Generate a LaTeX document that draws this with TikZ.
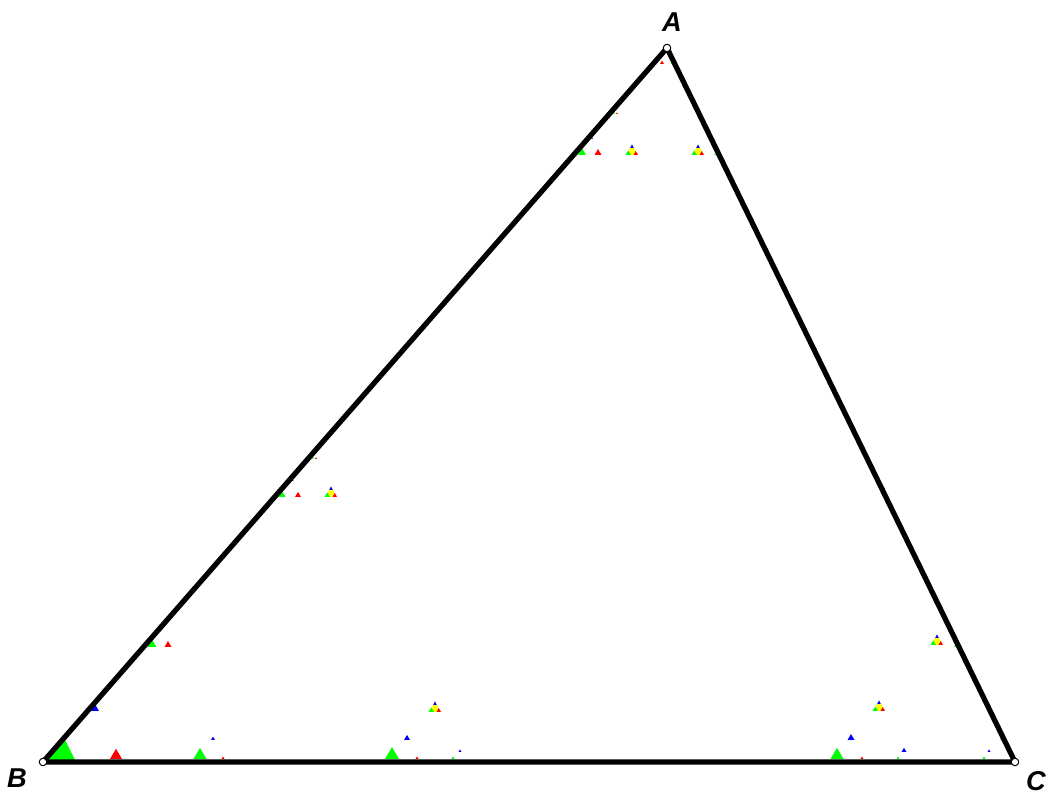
\documentclass[tikz,border=0pt]{standalone}
\usepackage{fontspec}
\setmainfont{Liberation Sans}
\usepackage{xcolor}
\usepackage{tikz}
\definecolor{verde}{RGB}{0,255,0}
\definecolor{rosso}{RGB}{255,0,0}
\definecolor{blu}{RGB}{0,0,255}
\definecolor{giallo}{RGB}{255,255,0}

\begin{document}
\begin{tikzpicture}[x=0.2mm, y=-0.2mm,
            every node/.style={font=\fontsize{15.5}{18}\selectfont\bfseries\itshape}]
        \useasboundingbox (0,0) rectangle (1049,794);

        % Vertici del triangolo
        \coordinate (A) at (667,48);
        \coordinate (B) at (43,762);
        \coordinate (C) at (1015,762);

        % Triangolini: x/y/larghezza/colore (base centrata in x,y)
        \foreach \x/\y/\s/\c in {
                662/64/4/rosso, 672/64/2/verde, 614/114/2/verde, 617/114/2/rosso,
                592/139/2/blu, 582/155/8/verde, 598/155/7/rosso, 715/155/2/verde,
                313/459/2/verde, 316/459/2/rosso, 292/481/3/blu,
                282/497/7/verde, 298/497/6/rosso,
                152/647/9/verde, 168/647/7/rosso, 95/711/8/blu,
                116/759/12/rosso, 200/759/13/verde, 213/740/4/blu, 223/759/3/rosso,
                392/759/14/verde, 407/740/6/blu, 417/759/3/rosso, 453/759/3/verde,
                460/752/3/blu,
                947/627/2/verde, 955/647/2/verde, 851/740/7/blu, 837/759/13/verde,
                862/759/3/rosso, 904/752/5/blu, 898/759/3/verde, 989/752/3/blu,
                984/759/3/verde, 1001/740/2/verde}{
                \fill[\c] (\x-\s/2,\y) -- (\x+\s/2,\y) -- (\x,\y-0.85*\s) -- cycle;
            }

        % Gruppi giallo / verde / rosso / blu
        \foreach \x/\y in {632/155, 698/155, 331/497, 435/712, 937/645, 879/711}{
                \fill[giallo] (\x-6,\y) -- (\x+6,\y) -- (\x,\y-10) -- cycle;
                \fill[verde] (\x-6.5,\y) -- (\x-1,\y) -- (\x-3.75,\y-4.5) -- cycle;
                \fill[rosso] (\x+1.5,\y) -- (\x+6,\y) -- (\x+3.75,\y-4) -- cycle;
                \fill[blu] (\x-1.8,\y-7) -- (\x+1.8,\y-7) -- (\x,\y-10.5) -- cycle;
            }

        % Triangolo verde in B
        \fill[verde] (B) -- (76,762) -- (64,738) -- cycle;

        % Lati
        \draw[line width=1.05mm, line join=round] (A) -- (B) -- (C) -- cycle;

        % Punti ed etichette
        \foreach \p in {A, B, C}{
                \filldraw[fill=white, draw=black, line width=0.2mm] (\p) circle (0.75mm);
            }
        \node (lA) at (672,22) {A};
        \node (lB) at (17,778) {B};
        \node (lC) at (1036,781) {C};
    \end{tikzpicture}
\end{document}
